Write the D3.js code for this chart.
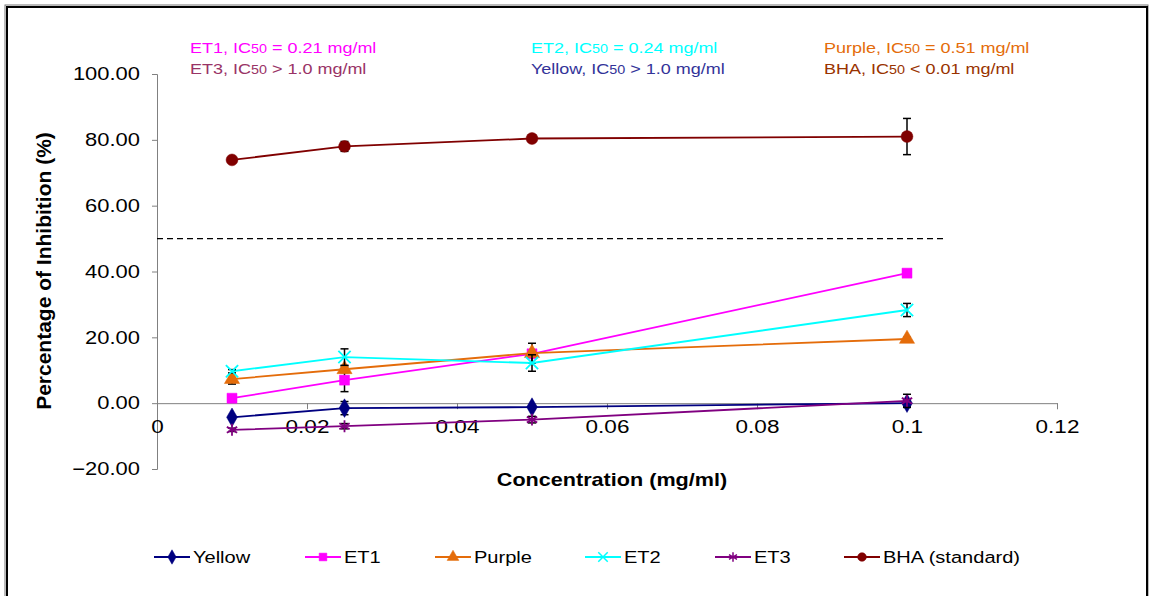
<!DOCTYPE html>
<html>
<head>
<meta charset="utf-8">
<script src="https://cdn.jsdelivr.net/npm/d3@7"></script>
<style>
  body { margin: 0; background: #fff; }
  svg { font-family: "Liberation Sans", Arial, sans-serif; }
</style>
</head>
<body>
<div id="chart"></div>
<script>
// concentrations (mg/ml)
const conc = [0.01, 0.025, 0.05, 0.1]

// % inhibition per extract
const yellow = [-4.3, -1.5, -1.2, 0.0]
const et1 = [1.5, 7.0, 15.0, 39.5]
const purple = [7.3, 10.3, 15.2, 19.5]
const et2 = [9.7, 14.0, 12.2, 28.3]
const et3 = [-8.1, -7.0, -5.0, 0.7]
const bha = [73.9, 78.0, 80.4, 81.0]

// standard deviations (error bars)
const yellowErr = [0.5, 2.0, 0.5, 1.0]
const et1Err = [0.5, 3.5, 1.0, 0.5]
const purpleErr = [1.5, 1.0, 3.0, 0.5]
const et2Err = [0.5, 2.5, 2.5, 2.0]
const et3Err = [0.5, 0.8, 1.0, 2.0]
const bhaErr = [0.5, 1.5, 0.5, 5.5]

const xTicks = [0, 0.02, 0.04, 0.06, 0.08, 0.1, 0.12]
const yTicks = [-20, 0, 20, 40, 60, 80, 100]
const threshold = 50

const series = [
  {name: 'Yellow', values: yellow, err: yellowErr, color: '#000080', symbol: 'diamond'},
  {name: 'ET1', values: et1, err: et1Err, color: '#ff00ff', symbol: 'square'},
  {name: 'Purple', values: purple, err: purpleErr, color: '#e46c0a', symbol: 'triangle'},
  {name: 'ET2', values: et2, err: et2Err, color: '#00ffff', symbol: 'x'},
  {name: 'ET3', values: et3, err: et3Err, color: '#800080', symbol: 'star'},
  {name: 'BHA (standard)', values: bha, err: bhaErr, color: '#800000', symbol: 'circle'}
]

const notes = [
  {lead: 'ET1, IC', tail: ' = 0.21 mg/ml', color: '#ff00ff', col: 0, row: 0},
  {lead: 'ET2, IC', tail: ' = 0.24 mg/ml', color: '#00ffff', col: 1, row: 0},
  {lead: 'Purple, IC', tail: ' = 0.51 mg/ml', color: '#e46c0a', col: 2, row: 0},
  {lead: 'ET3, IC', tail: ' > 1.0 mg/ml', color: '#993366', col: 0, row: 1},
  {lead: 'Yellow, IC', tail: ' > 1.0 mg/ml', color: '#333399', col: 1, row: 1},
  {lead: 'BHA, IC', tail: ' < 0.01 mg/ml', color: '#993300', col: 2, row: 1}
]

const W = 1156, H = 596
const svg = d3.select('#chart').append('svg').attr('width', W).attr('height', H)

// the original picture is a bit stretched sideways, so text gets a scaleX
const stretch = (sel, sx) => sel.each(function () {
  const t = d3.select(this)
  const x0 = +t.attr('x') || 0
  t.attr('x', x0 / sx).attr('transform', `scale(${sx},1)`)
})

// outer frame
svg.append('rect').attr('x', 5).attr('y', 5).attr('width', 1143).attr('height', 600)
  .attr('fill', '#fff').attr('stroke', '#777').attr('stroke-width', 1)
svg.append('rect').attr('x', 7).attr('y', 7).attr('width', 1140).attr('height', 600)
  .attr('fill', 'none').attr('stroke', '#000').attr('stroke-width', 2)

const x = d3.scaleLinear().domain([0, 0.12]).range([157, 1057])
const y = d3.scaleLinear().domain([-20, 100]).range([469, 74])

const axisColor = '#808080'

// y axis
const yAxis = svg.append('g').attr('transform', `translate(${x(0)},0)`)
  .call(d3.axisLeft(y).tickValues(yTicks).tickFormat(d3.format('.2f')).tickSize(5).tickPadding(12))
yAxis.select('.domain').attr('stroke', axisColor)
yAxis.selectAll('.tick line').attr('stroke', axisColor)
yAxis.selectAll('text').attr('font-size', 18).attr('fill', '#000').call(stretch, 1.22)

// x axis (crosses at y = 0)
const xAxis = svg.append('g').attr('transform', `translate(0,${y(0)})`)
  .call(d3.axisBottom(x).tickValues(xTicks).tickFormat(d => d === 0 ? '0' : String(+d.toFixed(2))).tickSize(6).tickPadding(11))
xAxis.select('.domain').attr('stroke', axisColor)
xAxis.selectAll('.tick line').attr('stroke', axisColor)
xAxis.selectAll('text').attr('font-size', 18).attr('fill', '#000').call(stretch, 1.25)

// 50% reference line
svg.append('line')
  .attr('x1', x(0)).attr('x2', x(0.105))
  .attr('y1', y(threshold)).attr('y2', y(threshold))
  .attr('stroke', '#000').attr('stroke-width', 1.3).attr('stroke-dasharray', '6,4')

// axis titles
svg.append('text').attr('x', 612).attr('y', 486).attr('text-anchor', 'middle')
  .attr('font-size', 18).attr('font-weight', 'bold').text('Concentration (mg/ml)')
  .call(stretch, 1.2)
svg.append('text').attr('transform', 'translate(51,271) rotate(-90)').attr('text-anchor', 'middle')
  .attr('font-size', 21).attr('font-weight', 'bold').text('Percentage of Inhibition (%)')

function symbolPath(kind, size) {
  const map = {
    diamond: d3.symbolDiamond, square: d3.symbolSquare, triangle: d3.symbolTriangle,
    x: d3.symbolTimes, star: d3.symbolAsterisk, circle: d3.symbolCircle
  }
  return d3.symbol().type(map[kind]).size(size)()
}
const filled = k => k !== 'x' && k !== 'star'

const line = d3.line().x(d => x(d[0])).y(d => y(d[1]))

series.forEach(s => {
  const pts = conc.map((c, i) => [c, s.values[i], s.err[i]])
  const g = svg.append('g')

  g.append('path').datum(pts).attr('d', line)
    .attr('fill', 'none').attr('stroke', s.color).attr('stroke-width', 1.8)

  // error bars
  const eb = g.selectAll('.eb').data(pts).enter().append('g')
  eb.append('line').attr('x1', d => x(d[0])).attr('x2', d => x(d[0]))
    .attr('y1', d => y(d[1] - d[2])).attr('y2', d => y(d[1] + d[2]))
    .attr('stroke', '#000').attr('stroke-width', 1.5)
  ;[-1, 1].forEach(sg => {
    eb.append('line').attr('x1', d => x(d[0]) - 4).attr('x2', d => x(d[0]) + 4)
      .attr('y1', d => y(d[1] + sg * d[2])).attr('y2', d => y(d[1] + sg * d[2]))
      .attr('stroke', '#000').attr('stroke-width', 1.5)
  })

  g.selectAll('.mk').data(pts).enter().append('path')
    .attr('transform', d => `translate(${x(d[0])},${y(d[1])})`)
    .attr('d', symbolPath(s.symbol, s.symbol === 'circle' ? 110 : 100))
    .attr('fill', filled(s.symbol) ? s.color : 'none')
    .attr('stroke', s.color).attr('stroke-width', filled(s.symbol) ? 0.5 : 1.8)
})

// IC50 notes
const colX = [190, 531, 824]
notes.forEach(n => {
  const t = svg.append('text').attr('x', colX[n.col]).attr('y', 53 + n.row * 21)
    .attr('font-size', 15).attr('fill', n.color)
  t.append('tspan').text(n.lead)
  t.append('tspan').attr('font-size', 12).text('50')
  t.append('tspan').attr('font-size', 15).text(n.tail)
  t.call(stretch, 1.2)
})

// legend
const legX = [154, 305, 435, 585, 715, 844]
series.forEach((s, i) => {
  const g = svg.append('g').attr('transform', `translate(${legX[i]},557)`)
  g.append('line').attr('x1', 0).attr('x2', 36).attr('stroke', s.color).attr('stroke-width', 1.8)
  g.append('path').attr('transform', 'translate(18,0)')
    .attr('d', symbolPath(s.symbol, 60))
    .attr('fill', filled(s.symbol) ? s.color : 'none')
    .attr('stroke', s.color).attr('stroke-width', filled(s.symbol) ? 0.5 : 1.5)
  g.append('text').attr('x', 39).attr('y', 6).attr('font-size', 17).text(s.name)
    .call(stretch, 1.18)
})
</script>
</body>
</html>
